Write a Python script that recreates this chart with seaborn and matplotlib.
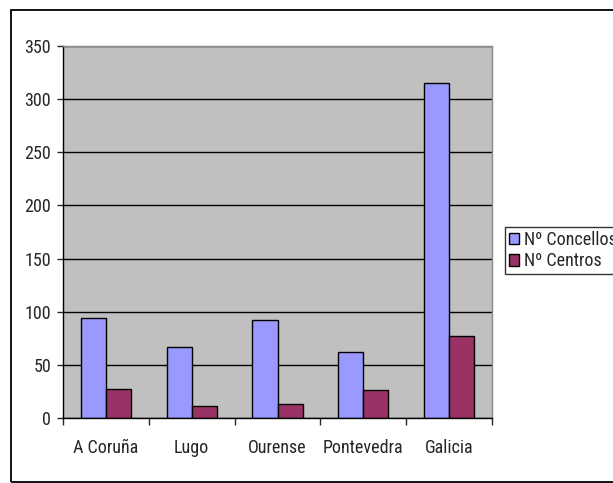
import matplotlib
matplotlib.use("Agg")
import matplotlib.pyplot as plt
import seaborn as sns
import pandas as pd
from matplotlib.patches import Rectangle

categories = ["A Coruña", "Lugo", "Ourense", "Pontevedra", "Galicia"]
concellos = [94, 67, 92, 62, 315]
centros = [27, 11, 13, 26, 77]
series_names = ["Nº Concellos", "Nº Centros"]
y_ticks = [0, 50, 100, 150, 200, 250, 300, 350]

df = pd.DataFrame({
    "cat": categories * 2,
    "val": concellos + centros,
    "serie": [series_names[0]] * len(categories) + [series_names[1]] * len(categories),
})

sns.set_style("white")
plt.rcParams["font.family"] = ["Roboto Condensed", "DejaVu Sans"]
FS = 13

fig = plt.figure(figsize=(6.13, 4.83), dpi=100)
W, H = 613, 483
ax = fig.add_axes([63 / W, 1 - 418 / H, (492 - 63) / W, (418 - 46) / H])
ax.set_facecolor("#C0C0C0")

sns.barplot(data=df, x="cat", y="val", hue="serie", order=categories,
            hue_order=series_names, palette=["#9999FF", "#993366"],
            width=0.583, edgecolor="black", linewidth=1.0, saturation=1,
            ax=ax, legend=True)

ax.set_ylim(0, 350)
ax.set_xlim(-0.5, len(categories) - 0.5)
ax.set_yticks(y_ticks)
ax.set_yticklabels([str(t) for t in y_ticks], fontsize=FS)
ax.yaxis.grid(True, color="black", linewidth=1.0)
ax.set_axisbelow(True)
ax.set_xlabel("")
ax.set_ylabel("")

ax.tick_params(axis="y", direction="out", length=4, width=1, pad=4.5, left=True)
ax.tick_params(axis="x", which="major", length=0, pad=15, labelsize=FS)
ax.set_xticks([i - 0.5 for i in range(len(categories) + 1)], minor=True)
ax.tick_params(axis="x", which="minor", direction="out", length=5, width=1,
               bottom=True, top=False)

for s in ["left", "bottom"]:
    ax.spines[s].set_color("black")
    ax.spines[s].set_linewidth(1.0)
for s in ["top", "right"]:
    ax.spines[s].set_color("#8C8C8C")
    ax.spines[s].set_linewidth(1.0)

leg = ax.legend(loc="upper left", bbox_to_anchor=(505 / W, 1 - 227 / H),
                bbox_transform=fig.transFigure, fontsize=FS, frameon=True,
                fancybox=False, edgecolor="black", handlelength=0.6,
                handleheight=0.6, handletextpad=0.25, borderpad=0.2,
                labelspacing=0.2, borderaxespad=0)
leg.get_frame().set_linewidth(1.0)

fig.patches.append(Rectangle((11 / W, 1.5 / H), 1.2, 1 - 11.5 / H, transform=fig.transFigure,
                             fill=False, edgecolor="black", linewidth=1.3))

fig.savefig("out.png", dpi=100)
